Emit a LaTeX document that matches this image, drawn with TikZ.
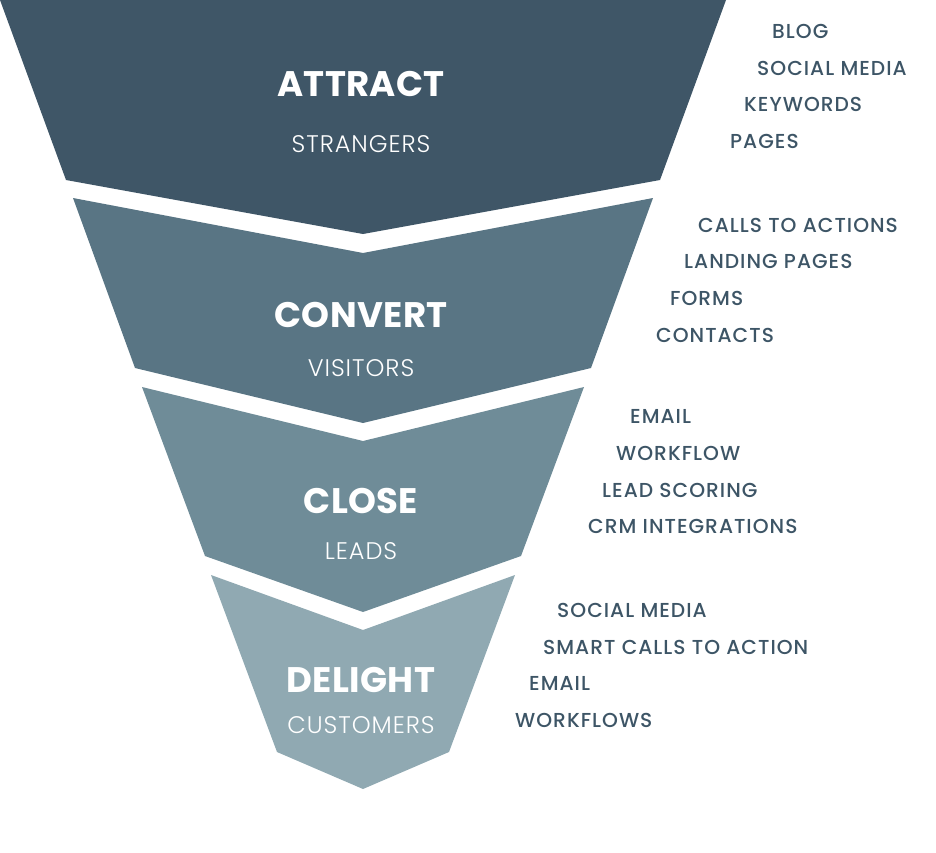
\documentclass[tikz,border=0pt]{standalone}
\usepackage{fontspec}
\setmainfont{Poppins}
\newfontfamily\sublight{Poppins Light}[LetterSpace=4]
\newfontfamily\labmed{Poppins Medium}[LetterSpace=5]
\newfontfamily\titbold{Poppins Bold}[LetterSpace=1]
\definecolor{segA}{HTML}{3F5667}
\definecolor{segB}{HTML}{597584}
\definecolor{segC}{HTML}{6F8C98}
\definecolor{segD}{HTML}{90A9B2}
\definecolor{labcol}{HTML}{3D5566}
\begin{document}
\begin{tikzpicture}[x=1pt,y=-1pt,
  title/.style={anchor=base,inner sep=0pt,text=white,font=\fontsize{35.5}{38}\selectfont\titbold},
  sub/.style={anchor=base,inner sep=0pt,text=white,font=\fontsize{24}{27}\selectfont\sublight},
  lab/.style={anchor=base west,inner sep=0pt,text=labcol,font=\fontsize{20.2}{24}\selectfont\labmed}]
\useasboundingbox (0,0) rectangle (936,852);
% funnel segments
\fill[segA] (0,0) -- (726,0) -- (660,180) -- (363,234) -- (66,180) -- cycle;
\fill[segB] (73,198) -- (363,253) -- (653,198) -- (591,368) -- (363,423) -- (135,368) -- cycle;
\fill[segC] (142,387) -- (363,441) -- (584,387) -- (521,556) -- (363,612) -- (205,556) -- cycle;
\fill[segD] (211,575) -- (363,630) -- (515,575) -- (449,752) -- (363,789) -- (277,752) -- cycle;
% titles
\node[title] (t1) at (361,96) {ATTRACT};
\node[sub] (s1) at (361,152) {STRANGERS};
\node[title] (t2) at (361,327) {CONVERT};
\node[sub] (s2) at (361,376) {VISITORS};
\node[title] (t3) at (361,513) {CLOSE};
\node[sub] (s3) at (361,559) {LEADS};
\node[title] (t4) at (361,692) {DELIGHT};
\node[sub] (s4) at (361,733) {CUSTOMERS};
% labels
\node[lab] (a1) at (772,38) {BLOG};
\node[lab] (a2) at (757,75) {SOCIAL MEDIA};
\node[lab] (a3) at (744,111) {KEYWORDS};
\node[lab] (a4) at (730,148) {PAGES};
\node[lab] (b1) at (698,232) {CALLS TO ACTIONS};
\node[lab] (b2) at (684,268) {LANDING PAGES};
\node[lab] (b3) at (670,305) {FORMS};
\node[lab] (b4) at (656,342) {CONTACTS};
\node[lab] (c1) at (630,423) {EMAIL};
\node[lab] (c2) at (616,460) {WORKFLOW};
\node[lab] (c3) at (602,497) {LEAD SCORING};
\node[lab] (c4) at (588,533) {CRM INTEGRATIONS};
\node[lab] (d1) at (557,617) {SOCIAL MEDIA};
\node[lab] (d2) at (543,654) {SMART CALLS TO ACTION};
\node[lab] (d3) at (529,690) {EMAIL};
\node[lab] (d4) at (515,727) {WORKFLOWS};
\end{tikzpicture}
\end{document}
